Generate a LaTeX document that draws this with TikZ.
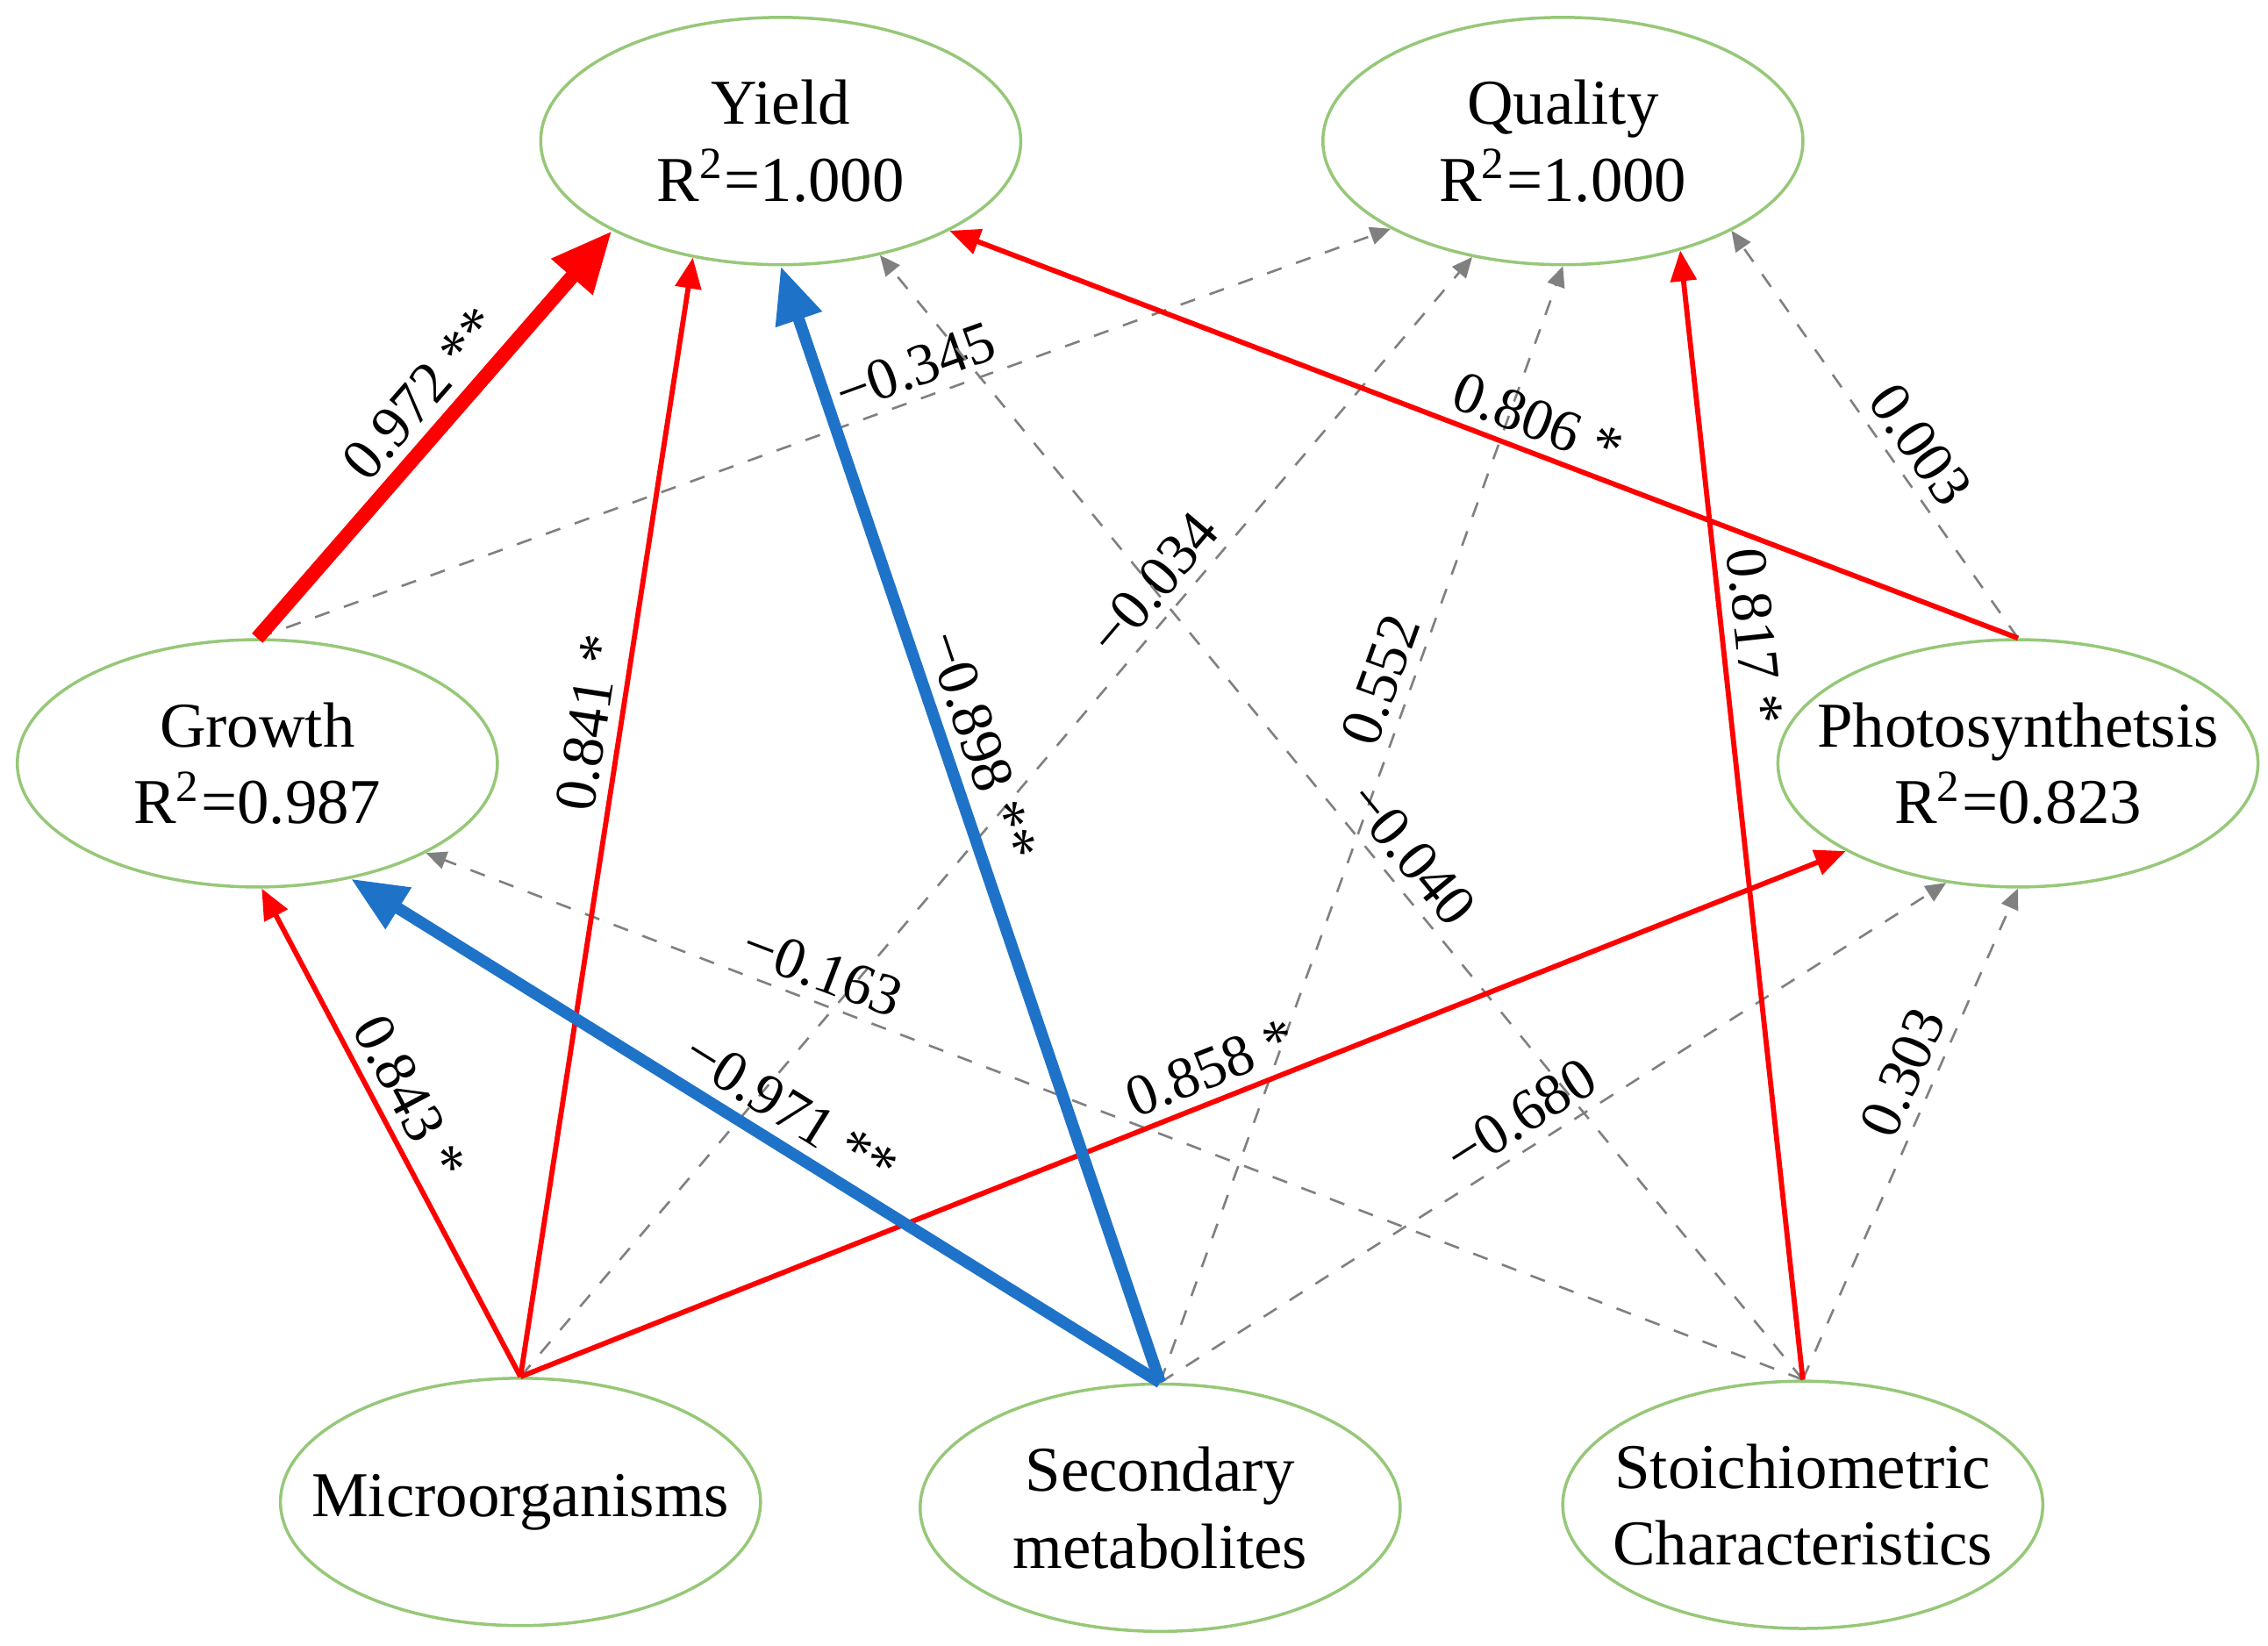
\documentclass[tikz,border=0pt]{standalone}
\usepackage{fontspec}
\setmainfont{Liberation Serif}
\usetikzlibrary{arrows.meta,shapes.geometric}
\definecolor{lgreen}{RGB}{150,200,120}
\definecolor{pblue}{RGB}{30,115,200}
\tikzset{
  var/.style={ellipse,draw=lgreen,line width=0.6pt,minimum width=3.3cm,minimum height=1.7cm,inner sep=0pt,align=center,font=\fontsize{12.5}{15}\selectfont},
  wide/.style={inner xsep=-0.55cm},
  posp/.style={red,line width=1pt,-{Triangle[length=6pt,width=5pt]}},
  strong/.style={red,line width=2.8pt,-{Triangle[length=12pt,width=10pt]}},
  neg/.style={pblue,line width=2.3pt,-{Triangle[length=11pt,width=9pt]}},
  ns/.style={gray,dashed,line width=0.45pt,-{Triangle[length=4pt,width=3.5pt]}},
  lab/.style={sloped,above,inner sep=2pt,font=\fontsize{11.5}{13}\selectfont,text=black}
}
\begin{document}
\begin{tikzpicture}[x=0.01cm,y=-0.01cm]
\useasboundingbox (0,0) rectangle (1560,1132);
\node[var] (Y) at (537,97) {Yield\\R\textsuperscript{2}=1.000};
\node[var] (Q) at (1075,97) {Quality\\R\textsuperscript{2}=1.000};
\node[var] (G) at (177,525) {Growth\\R\textsuperscript{2}=0.987};
\node[var,wide] (P) at (1388,525) {Photosynthetsis\\R\textsuperscript{2}=0.823};
\node[var,wide] (M) at (358,1033) {Microorganisms};
\node[var] (S) at (798,1037) {Secondary\\metabolites};
\node[var,wide] (C) at (1240,1035) {Stoichiometric\\Characteristics};
% non-significant paths
\draw[ns] (G.north) -- (Q.207) node[lab,pos=0.59] {−0.345};
\draw[ns] (M.north) -- (Q.232) node[lab,pos=0.69] {−0.034};
\draw[ns] (S.north) -- (Q.270) node[lab,pos=0.62] {0.552};
\draw[ns] (P.north) -- (Q.332) node[lab,pos=0.43] {0.003};
\draw[ns] (C.north) -- (Y.311) node[lab,pos=0.45] {−0.040};
\draw[ns] (C.north) -- (G.332) node[lab,pos=0.72] {−0.163};
\draw[ns] (S.north) -- (P.239) node[lab,pos=0.48] {−0.680};
\draw[ns] (C.north) -- (P.270) node[lab,pos=0.6] {0.303};
% significant paths
\draw[posp] (M.north) -- (Y.233) node[lab,pos=0.58] {0.841 *};
\draw[posp] (P.north) -- (Y.332) node[lab,pos=0.46] {0.806 *};
\draw[posp] (C.north) -- (Q.317) node[lab,pos=0.655] {0.817 *};
\draw[posp] (M.north) -- (G.272) node[lab,pos=0.54] {0.843 *};
\draw[posp] (M.north) -- (P.207) node[lab,pos=0.53] {0.858 *};
\draw[strong] (G.north) -- (Y.208) node[lab,pos=0.54] {0.972 **};
\draw[neg] (S.north) -- (Y.270) node[lab,pos=0.56] {−0.898 **};
\draw[neg] (S.north) -- (G.309) node[lab,pos=0.48] {−0.971 **};
\end{tikzpicture}
\end{document}
